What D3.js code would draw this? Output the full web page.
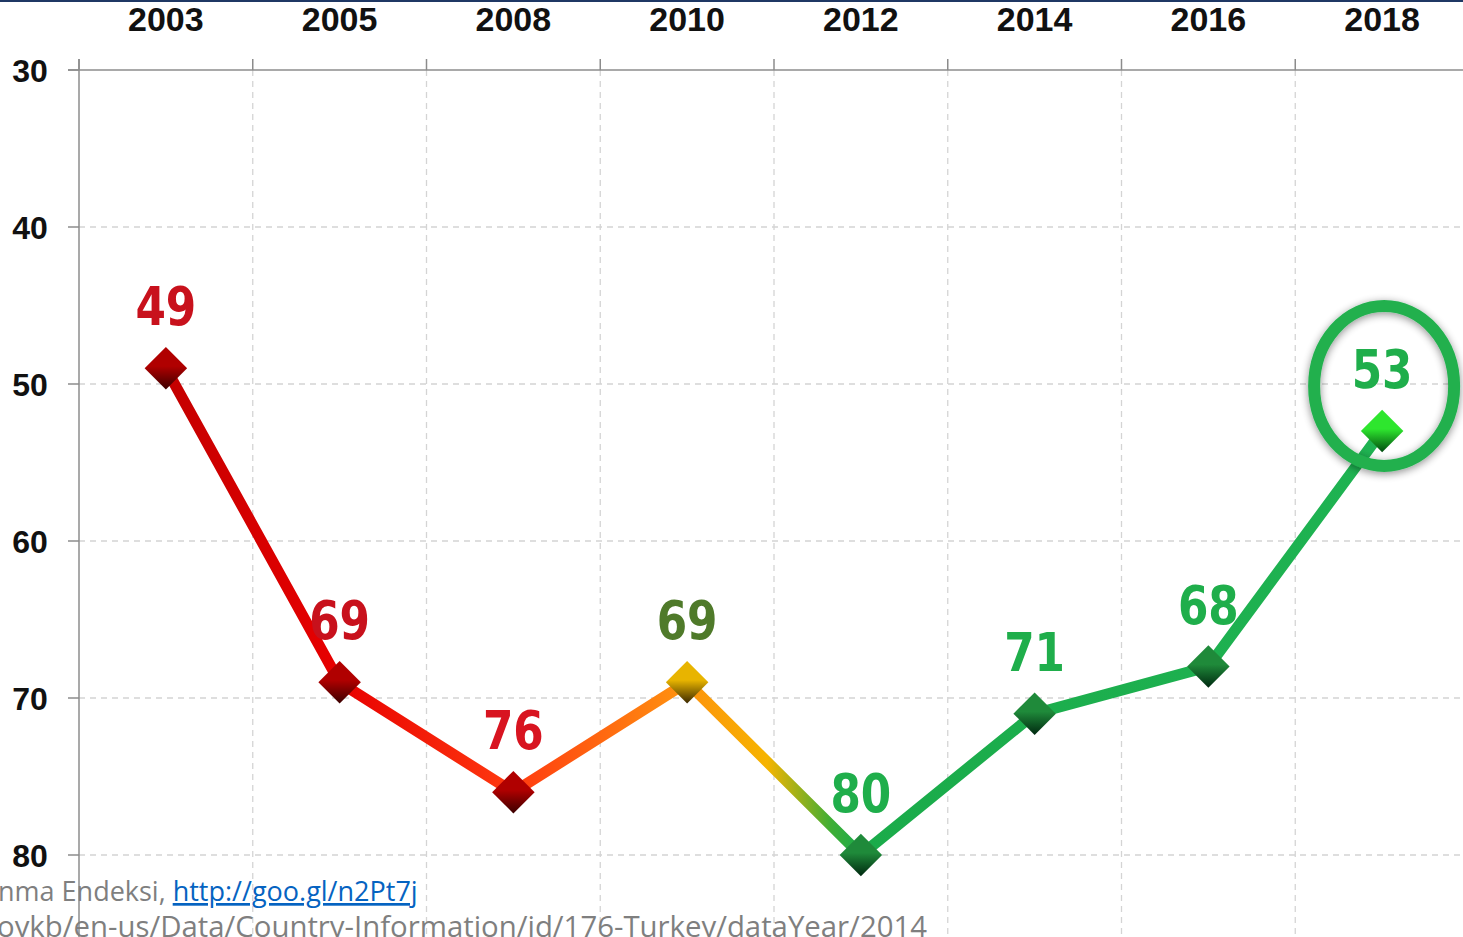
<!DOCTYPE html>
<html>
<head>
<meta charset="utf-8">
<script src="https://cdn.jsdelivr.net/npm/d3@7"></script>
<style>
  html, body { margin: 0; padding: 0; background: #fff; overflow: hidden; }
  svg { display: block; }
</style>
</head>
<body>
<script>
// data
const years = ["2003", "2005", "2008", "2010", "2012", "2014", "2016", "2018"];
const scores = [49, 69, 76, 69, 80, 71, 68, 53];
const labelColors = ["#c8111c", "#c8111c", "#d81420", "#4f7a2a", "#1fae4b", "#1fae4b", "#1fae4b", "#1fae4b"];
const markerKinds = ["red", "red", "red", "gold", "green", "green", "green", "lime"];
const yTicks = [30, 40, 50, 60, 70, 80];
const sourceLine1 = "nma Endeksi, ";
const sourceLink = "http://goo.gl/n2Pt7j";
const sourceLine2 = "oykb/en-us/Data/Country-Information/id/176-Turkey/dataYear/2014";

const width = 1463, height = 937;

const svg = d3.select("body").append("svg")
  .attr("width", width)
  .attr("height", height);

const defs = svg.append("defs");

const x = d3.scaleBand()
  .domain(years)
  .range([79, 1469]);

const y = d3.scaleLinear()
  .domain([30, 80])
  .range([70, 855]);

const cx = d => x(d) + x.bandwidth() / 2;

// top strip
svg.append("rect")
  .attr("x", 0).attr("y", 0)
  .attr("width", width).attr("height", 2)
  .attr("fill", "#1f3864");

// grid
const grid = svg.append("g")
  .attr("stroke", "#d4d4d4")
  .attr("stroke-width", 1.3)
  .attr("stroke-dasharray", "6,5");

grid.selectAll("line.h")
  .data(yTicks.slice(1))
  .join("line")
  .attr("x1", 79).attr("x2", width)
  .attr("y1", d => y(d)).attr("y2", d => y(d));

grid.selectAll("line.v")
  .data(years.slice(1))
  .join("line")
  .attr("x1", d => x(d)).attr("x2", d => x(d))
  .attr("y1", 70).attr("y2", height);

// axes
const axisG = svg.append("g").attr("stroke", "#8c8c8c").attr("stroke-width", 1.5);
axisG.append("line").attr("x1", 68).attr("x2", width).attr("y1", y(30)).attr("y2", y(30));
axisG.append("line").attr("x1", 79).attr("x2", 79).attr("y1", 59).attr("y2", height);

axisG.selectAll("line.tx")
  .data(years)
  .join("line")
  .attr("x1", d => x(d)).attr("x2", d => x(d))
  .attr("y1", 59).attr("y2", 70);

axisG.selectAll("line.ty")
  .data(yTicks)
  .join("line")
  .attr("x1", 68).attr("x2", 79)
  .attr("y1", d => y(d)).attr("y2", d => y(d));

// axis labels
svg.append("g")
  .selectAll("text")
  .data(years)
  .join("text")
  .attr("x", d => cx(d))
  .attr("y", 31)
  .attr("text-anchor", "middle")
  .attr("font-family", "'Liberation Sans', Arial, sans-serif")
  .attr("font-weight", "bold")
  .attr("font-size", 34)
  .attr("fill", "#111")
  .text(d => d);

svg.append("g")
  .selectAll("text")
  .data(yTicks)
  .join("text")
  .attr("x", 30)
  .attr("y", d => y(d) + 12)
  .attr("text-anchor", "middle")
  .attr("font-family", "'Liberation Sans', Arial, sans-serif")
  .attr("font-weight", "bold")
  .attr("font-size", 32)
  .attr("fill", "#111")
  .text(d => d);

// line gradient along x
const lg = defs.append("linearGradient")
  .attr("id", "lineGrad")
  .attr("gradientUnits", "userSpaceOnUse")
  .attr("x1", cx("2003")).attr("x2", cx("2018"))
  .attr("y1", 0).attr("y2", 0);
const span = cx("2018") - cx("2003");
const stopAt = px => (px - cx("2003")) / span;
[
  [cx("2003"), "#c40000"],
  [cx("2005"), "#e80000"],
  [cx("2008"), "#ff3a10"],
  [cx("2010") - 20, "#ff8a10"],
  [cx("2010") + 80, "#f6b400"],
  [cx("2012") - 30, "#3fae35"],
  [cx("2012"), "#1aab4a"],
  [cx("2018"), "#1fb352"]
].forEach(([px, c]) => lg.append("stop").attr("offset", stopAt(px)).attr("stop-color", c));

const pts = years.map((yr, i) => [cx(yr), y(scores[i])]);

svg.append("path")
  .datum(pts)
  .attr("d", d3.line())
  .attr("fill", "none")
  .attr("stroke", "url(#lineGrad)")
  .attr("stroke-width", 11)
  .attr("stroke-linejoin", "miter");

// ring around last point
defs.append("filter").attr("id", "glow")
  .attr("x", "-30%").attr("y", "-30%").attr("width", "160%").attr("height", "160%")
  .call(f => {
    f.append("feGaussianBlur").attr("in", "SourceAlpha").attr("stdDeviation", 4).attr("result", "b");
    f.append("feOffset").attr("in", "b").attr("dx", 0).attr("dy", 2).attr("result", "o");
    f.append("feComponentTransfer").attr("in", "o").attr("result", "s")
      .append("feFuncA").attr("type", "linear").attr("slope", 0.45);
    const m = f.append("feMerge");
    m.append("feMergeNode").attr("in", "s");
    m.append("feMergeNode").attr("in", "SourceGraphic");
  });

svg.append("ellipse")
  .attr("cx", cx("2018") + 2)
  .attr("cy", 386)
  .attr("rx", 70)
  .attr("ry", 80)
  .attr("fill", "none")
  .attr("stroke", "#22b04e")
  .attr("stroke-width", 12)
  .attr("filter", "url(#glow)");

// marker gradients
const markerColors = {
  red: ["#b00000", "#3a0000"],
  gold: ["#e8b400", "#3a2800"],
  green: ["#1f8a3a", "#002810"],
  lime: ["#2ee62e", "#004a10"]
};
Object.entries(markerColors).forEach(([k, [c1, c2]]) => {
  const g = defs.append("linearGradient")
    .attr("id", "mk-" + k)
    .attr("x1", 0).attr("y1", 0).attr("x2", 0).attr("y2", 1);
  g.append("stop").attr("offset", 0).attr("stop-color", c1);
  g.append("stop").attr("offset", 0.45).attr("stop-color", c1);
  g.append("stop").attr("offset", 1).attr("stop-color", c2);
});

const diamond = d3.symbol().type(d3.symbolDiamond2).size(1150);

svg.append("g")
  .selectAll("path")
  .data(years)
  .join("path")
  .attr("transform", (d, i) => `translate(${cx(d)},${y(scores[i])})`)
  .attr("d", diamond)
  .attr("fill", (d, i) => `url(#mk-${markerKinds[i]})`);

// value labels (squeezed a bit to look like the narrow face of the original)
svg.append("g")
  .selectAll("text")
  .data(years)
  .join("text")
  .attr("transform", (d, i) => `translate(${cx(d)},${y(scores[i]) - 43}) scale(0.9,1)`)
  .attr("text-anchor", "middle")
  .attr("font-family", "'DejaVu Sans Condensed', 'DejaVu Sans', sans-serif")
  .attr("font-stretch", "condensed")
  .attr("font-weight", "bold")
  .attr("font-size", 54)
  .attr("fill", (d, i) => labelColors[i])
  .text((d, i) => scores[i]);

// source lines (cut off at the left edge)
const src = svg.append("text")
  .attr("x", -2)
  .attr("y", 901)
  .attr("font-family", "'Open Sans', 'Liberation Sans', sans-serif")
  .attr("font-size", 27)
  .attr("fill", "#7f7f7f");
src.append("tspan").text(sourceLine1);
src.append("tspan")
  .attr("fill", "#0563c1")
  .attr("text-decoration", "underline")
  .text(sourceLink);

svg.append("text")
  .attr("x", -3)
  .attr("y", 937)
  .attr("font-family", "'Open Sans', 'Liberation Sans', sans-serif")
  .attr("font-size", 30)
  .attr("fill", "#7f7f7f")
  .attr("textLength", 930)
  .attr("lengthAdjust", "spacingAndGlyphs")
  .text(sourceLine2);
</script>
</body>
</html>
